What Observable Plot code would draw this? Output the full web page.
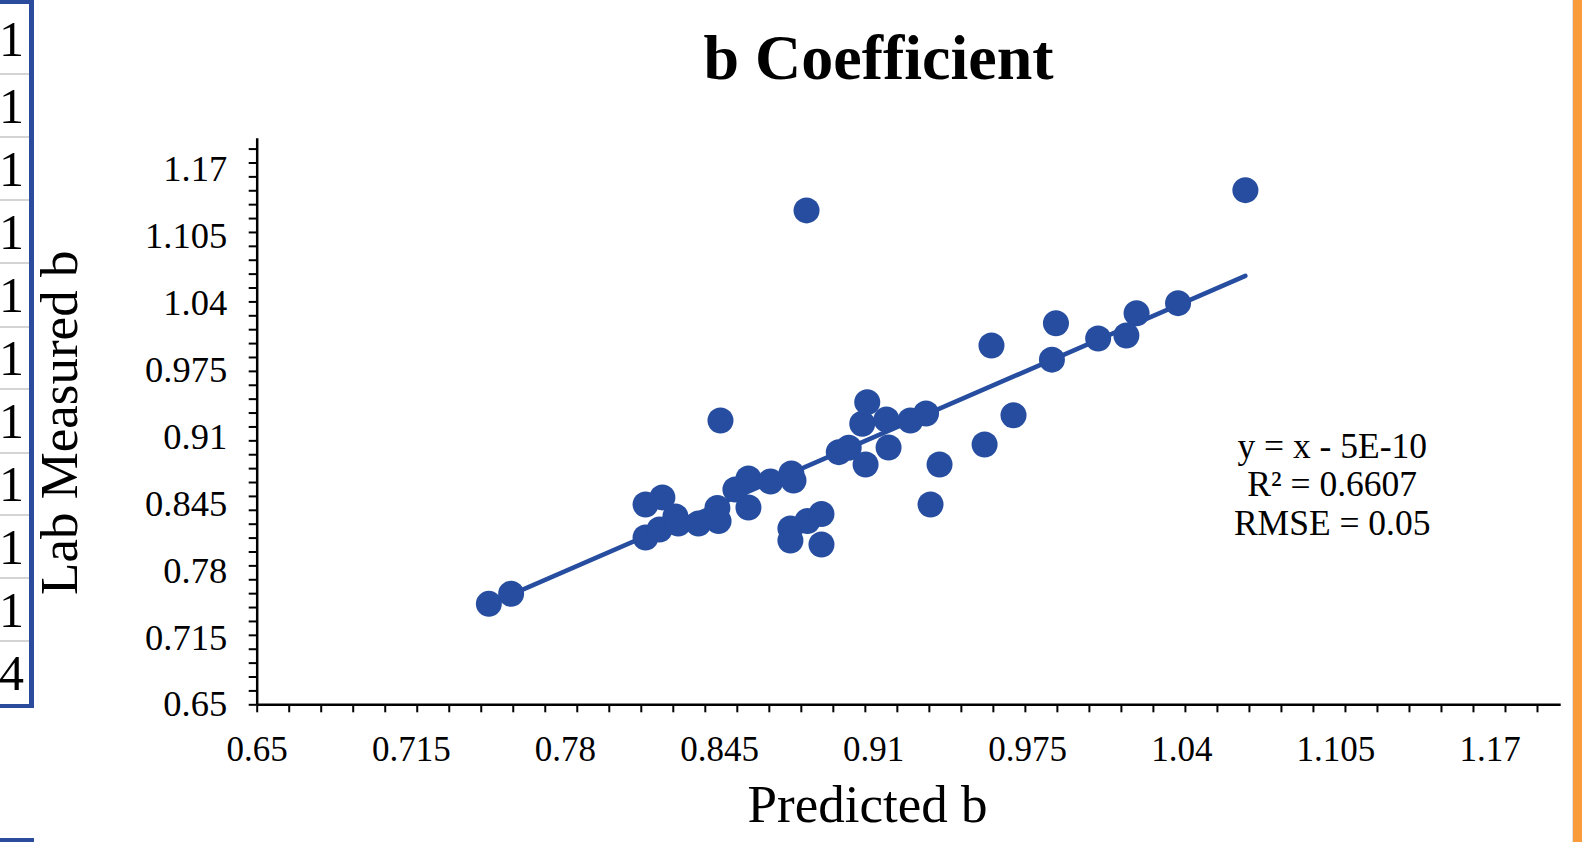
<!DOCTYPE html>
<html>
<head>
<meta charset="utf-8">
<script src="https://cdn.jsdelivr.net/npm/d3@7"></script>
<script src="https://cdn.jsdelivr.net/npm/@observablehq/plot@0.6"></script>
<style>
  html, body { margin: 0; padding: 0; background: #fff; width: 1582px; height: 842px; overflow: hidden; }
  #chart { position: absolute; left: 0; top: 0; }
  #cells { position: absolute; left: 0; top: 0; width: 29px; height: 708px; z-index: 2; background: #fff;
           font-family: "Liberation Serif", "Times New Roman", serif; }
  .cell { position: absolute; left: 0; width: 24px; display: flex; align-items: center; justify-content: flex-end;
          font-size: 50px; line-height: 1; color: #000; }
  .sep { position: absolute; left: 0; width: 29px; height: 2px; background: #d4d4d4; }
  .edge { position: absolute; background: #2b4c9c; z-index: 3; }
  #strip { position: absolute; left: 1572px; top: 0; width: 10px; height: 842px; background: #f99b3a;
           border-left: 1px solid #e2e2e2; box-sizing: border-box; z-index: 2; }
</style>
</head>
<body>
<div id="chart"></div>
<div id="cells"></div>
<div id="strip"></div>
<script>
// ---- data ----
const predicted = [0.7477, 0.7571, 0.8138, 0.8209, 0.8138, 0.8197, 0.8264, 0.8276, 0.8361, 0.8441,
                   0.8446, 0.8454, 0.8517, 0.8572, 0.8572, 0.8665, 0.8753, 0.8762, 0.8749, 0.8749,
                   0.8821, 0.8880, 0.8880, 0.8817, 0.8953, 0.8995, 0.9066, 0.9052, 0.9073, 0.9154,
                   0.9163, 0.9255, 0.9321, 0.9378, 0.9340, 0.9568, 0.9690, 0.9597, 0.9852, 0.9869,
                   1.0047, 1.0166, 1.0209, 1.0384, 1.0668];
const measured  = [0.7481, 0.7579, 0.8447, 0.8515, 0.8126, 0.8204, 0.8330, 0.8262, 0.8262, 0.8413,
                   0.8285, 0.9263, 0.8592, 0.8699, 0.8417, 0.8670, 0.8748, 0.8680, 0.8213, 0.8097,
                   0.8286, 0.8354, 0.8058, 1.1304, 0.8955, 0.8998, 0.8835, 0.9231, 0.9441, 0.9273,
                   0.9000, 0.9263, 0.9331, 0.8835, 0.8447, 0.9030, 0.9314, 0.9992, 0.9854, 1.0207,
                   1.0060, 1.0089, 1.0305, 1.0403, 1.1501];
const xTickLabels = ["0.65", "0.715", "0.78", "0.845", "0.91", "0.975", "1.04", "1.105", "1.17"];
const yTickLabels = ["0.65", "0.715", "0.78", "0.845", "0.91", "0.975", "1.04", "1.105", "1.17"];
const axisDomain = [0.65, 1.2];
const minorStep = 0.0135;
const trendSlope = 1;
const trendIntercept = -5e-10;
const statLines = ["y = x - 5E-10", "R² = 0.6607", "RMSE = 0.05"];
const titleText = "b Coefficient";
const xTitle = "Predicted b";
const yTitle = "Lab Measured b";
const cellValues = ["1", "1", "1", "1", "1", "1", "1", "1", "1", "1", "4"];

// ---- derived ----
const points = predicted.map((x, i) => ({x, y: measured[i]}));
const trendPts = d3.extent(predicted).map(x => ({x, y: trendSlope * x + trendIntercept}));
const nMinor = Math.floor((axisDomain[1] - axisDomain[0]) / minorStep + 1e-9);
const minorTicks = d3.range(0, nMinor + 1).map(k => axisDomain[0] + k * minorStep);
const xFmt = new Map(xTickLabels.map(s => [+s, s]));
const yFmt = new Map(yTickLabels.map(s => [+s, s]));

const W = 1582, H = 842;
const mL = 256.7, mR = 21.3, mT = 138.3, mB = 137.7;
const blue = "#264d9f";
const serif = '"Liberation Serif", "Times New Roman", serif';
const frameCx = mL + (W - mL - mR) / 2;

const chart = Plot.plot({
  width: W, height: H,
  marginLeft: mL, marginRight: mR, marginTop: mT, marginBottom: mB,
  style: {fontFamily: serif, fontSize: "35px", color: "#000", background: "transparent", overflow: "visible"},
  x: {domain: axisDomain},
  y: {domain: axisDomain},
  marks: [
    Plot.axisX(minorTicks, {tickSize: 8, strokeWidth: 2, fill: "none", label: null}),
    Plot.axisY(minorTicks, {tickSize: 8, strokeWidth: 2, fill: "none", label: null}),
    Plot.axisX(xTickLabels.map(Number), {tickSize: 0, tickPadding: 31, fontSize: 35,
      tickFormat: d => xFmt.get(d) ?? String(d), label: null}),
    Plot.axisY(yTickLabels.map(Number), {tickSize: 0, tickPadding: 30, fontSize: 36.5,
      tickFormat: d => yFmt.get(d) ?? String(d), label: null}),
    Plot.ruleX([axisDomain[0]], {stroke: "#000", strokeWidth: 2.5}),
    Plot.ruleY([axisDomain[0]], {stroke: "#000", strokeWidth: 2.5}),
    Plot.line(trendPts, {x: "x", y: "y", stroke: blue, strokeWidth: 4.5}),
    Plot.dot(points, {x: "x", y: "y", r: 13, fill: blue}),
    Plot.text([titleText], {text: d => d, frameAnchor: "top", textAnchor: "middle", lineAnchor: "middle",
      dx: 878 - frameCx, dy: -80.1, fontSize: 64, fontWeight: "bold"}),
    Plot.text([xTitle], {text: d => d, frameAnchor: "bottom", textAnchor: "middle", lineAnchor: "middle",
      dx: 867 - frameCx, dy: 100.7, fontSize: 53}),
    Plot.text([yTitle], {text: d => d, frameAnchor: "left", textAnchor: "middle", lineAnchor: "middle",
      rotate: -90, dx: 60 - mL, dy: 1, fontSize: 53}),
    Plot.text([statLines.join("\n")], {text: d => d, frameAnchor: "top", textAnchor: "middle",
      dx: 1331.7 - frameCx, dy: 291.5, lineAnchor: "top", lineHeight: 1.085, fontSize: 35.5})
  ]
});
document.getElementById("chart").append(chart);

// ---- cropped spreadsheet cells at the left edge ----
const rowTops = [4, 74, 137, 200, 263, 326.5, 389, 452.5, 515, 578, 641];
const rowBottom = 704;
const cells = document.getElementById("cells");
cellValues.forEach((v, i) => {
  const top = rowTops[i];
  const bottom = i + 1 < rowTops.length ? rowTops[i + 1] : rowBottom;
  const c = document.createElement("div");
  c.className = "cell";
  c.style.top = top + "px";
  c.style.height = (bottom - top) + "px";
  c.textContent = v;
  cells.append(c);
  if (i > 0) {
    const s = document.createElement("div");
    s.className = "sep";
    s.style.top = (top - 1) + "px";
    cells.append(s);
  }
});
function edge(left, top, w, h) {
  const e = document.createElement("div");
  e.className = "edge";
  Object.assign(e.style, {left: left + "px", top: top + "px", width: w + "px", height: h + "px"});
  document.body.append(e);
}
edge(0, 0, 33.5, 4);       // top border
edge(29, 0, 4.5, 708);     // right border
edge(0, 704, 33.5, 4);     // bottom border
edge(0, 838, 33.5, 4);     // next box
</script>
</body>
</html>
